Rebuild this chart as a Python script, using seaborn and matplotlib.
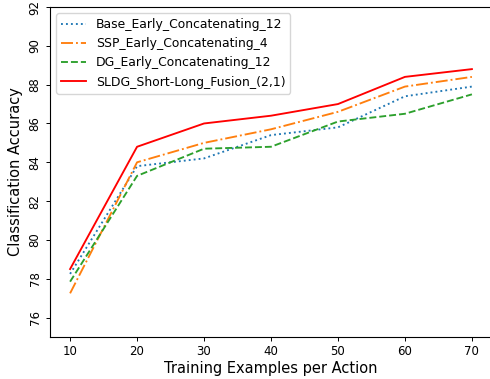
import numpy as np
import pandas as pd
import matplotlib
matplotlib.use('Agg')
import matplotlib.pyplot as plt
import seaborn as sns

# Training examples per action
examples = [10, 20, 30, 40, 50, 60, 70]

# Classification accuracy per method
base_early = [78.25, 83.8, 84.2, 85.4, 85.8, 87.4, 87.9]
ssp_early = [77.25, 84.0, 85.0, 85.7, 86.6, 87.9, 88.4]
dg_early = [77.85, 83.3, 84.7, 84.8, 86.1, 86.5, 87.5]
sldg_fusion = [78.5, 84.8, 86.0, 86.4, 87.0, 88.4, 88.8]

labels = ['Base_Early_Concatenating_12', 'SSP_Early_Concatenating_4',
          'DG_Early_Concatenating_12', 'SLDG_Short-Long_Fusion_(2,1)']
colors = ['#1f77b4', '#ff7f0e', '#2ca02c', 'red']
styles = [':', '-.', '--', '-']

df = pd.DataFrame({'examples': examples * 4,
                   'accuracy': base_early + ssp_early + dg_early + sldg_fusion,
                   'method': np.repeat(labels, len(examples))})

fig = plt.figure(figsize=(4.9, 3.79), dpi=100)
ax = fig.add_axes([50 / 490, 42 / 379, 442 / 490, 330 / 379])

for label, color, ls in zip(labels, colors, styles):
    sub = df[df['method'] == label]
    sns.lineplot(data=sub, x='examples', y='accuracy', ax=ax, color=color,
                 linestyle=ls, linewidth=1.35, label=label)

ax.set_ylim(75, 92)
ax.set_yticks(range(76, 93, 2))
ax.set_xticks(examples)
ax.tick_params(labelsize=8.5, length=3, width=0.7, pad=3)
ax.tick_params(axis='y', labelrotation=90)
for t in ax.get_yticklabels():
    t.set_verticalalignment('center')
for s in ax.spines.values():
    s.set_linewidth(0.8)
ax.set_xlabel('Training Examples per Action', fontsize=10.5, labelpad=2)
ax.set_ylabel('Classification Accuracy', fontsize=10.5, labelpad=4)
ax.legend(loc='upper left', fontsize=8.9)

fig.savefig('out.png', dpi=100)
